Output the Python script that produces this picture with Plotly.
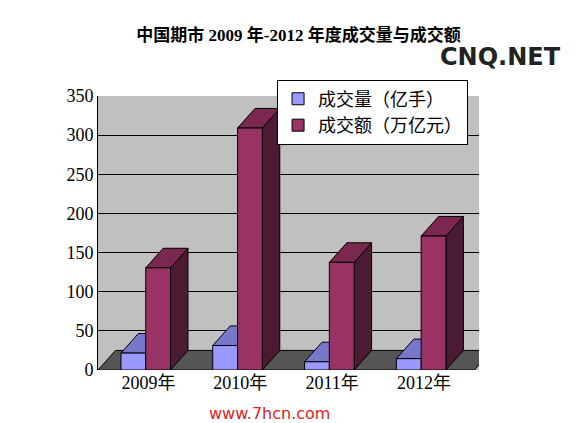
import plotly.graph_objects as go

years = ["2009年", "2010年", "2011年", "2012年"]
volume = [21.6, 31.3, 10.5, 14.5]        # 成交量（亿手）
turnover = [130.5, 309.1, 137.5, 171.1]  # 成交额（万亿元）
yticks = [0, 50, 100, 150, 200, 250, 300, 350]

w = 0.27      # bar width
dx, dy = 0.19, 25   # fake 3D depth
xs = list(range(len(years)))

series = [
    (-0.3, volume, "成交量（亿手）", "#9999ff", "#7777cc", "#55559a"),
    (-0.03, turnover, "成交额（万亿元）", "#993366", "#7a2850", "#4d1a33"),
]

fig = go.Figure()


def poly(px, py, color):
    fig.add_trace(go.Scatter(x=px + [px[0]], y=py + [py[0]], fill="toself", fillcolor=color,
                             line=dict(color="black", width=1), mode="lines",
                             showlegend=False, hoverinfo="skip"))


# floor
poly([-0.55, -0.55 + dx, 3.55 + dx, 3.55], [0, dy, dy, 0], "#555555")

for x in xs:
    for offset, vals, name, front, top, side in series:
        v = vals[x]
        x0, x1 = x + offset, x + offset + w
        poly([x1, x1 + dx, x1 + dx, x1], [0, dy, v + dy, v], side)
        poly([x0, x0 + dx, x1 + dx, x1], [v, v + dy, v + dy, v], top)
        poly([x0, x1, x1, x0], [0, 0, v, v], front)

# legend entries
for offset, vals, name, front, top, side in series:
    fig.add_trace(go.Bar(x=[None], y=[None], name=name,
                         marker=dict(color=front, line=dict(color="black", width=1))))

fig.update_layout(
    width=581, height=423,
    margin=dict(l=90, r=110, t=88, b=61),
    paper_bgcolor="white", plot_bgcolor="#c0c0c0",
    font=dict(family="Liberation Serif, Noto Sans CJK SC", size=18, color="black"),
    title=dict(text="<b>中国期市 2009 年-2012 年度成交量与成交额</b>", x=0.5, y=0.95,
               font=dict(size=17, family="Liberation Serif, Noto Sans CJK SC")),
    showlegend=True,
    legend=dict(x=0.47, y=1.06, xanchor="left", yanchor="top", bgcolor="white",
                bordercolor="black", borderwidth=1, font=dict(size=18, family="Noto Sans CJK SC")),
    xaxis=dict(range=[-0.55, 3.6], tickvals=xs, ticktext=years, showgrid=False,
               zeroline=False, showline=False),
    yaxis=dict(range=[0, 350], tickvals=yticks, showgrid=True, gridcolor="black",
               gridwidth=1, zeroline=False, showline=True, linecolor="black", ticks=""),
)
fig.add_annotation(text="<b>CNQ.NET</b>", xref="paper", yref="paper", x=1.22, y=1.2,
                   showarrow=False, font=dict(size=24, color="#222222", family="DejaVu Sans"))
fig.add_annotation(text="www.7hcn.com", xref="paper", yref="paper", x=0.45, y=-0.2,
                   showarrow=False, font=dict(size=16, color="#dd2222", family="DejaVu Sans"))
fig.write_html("out.html")
